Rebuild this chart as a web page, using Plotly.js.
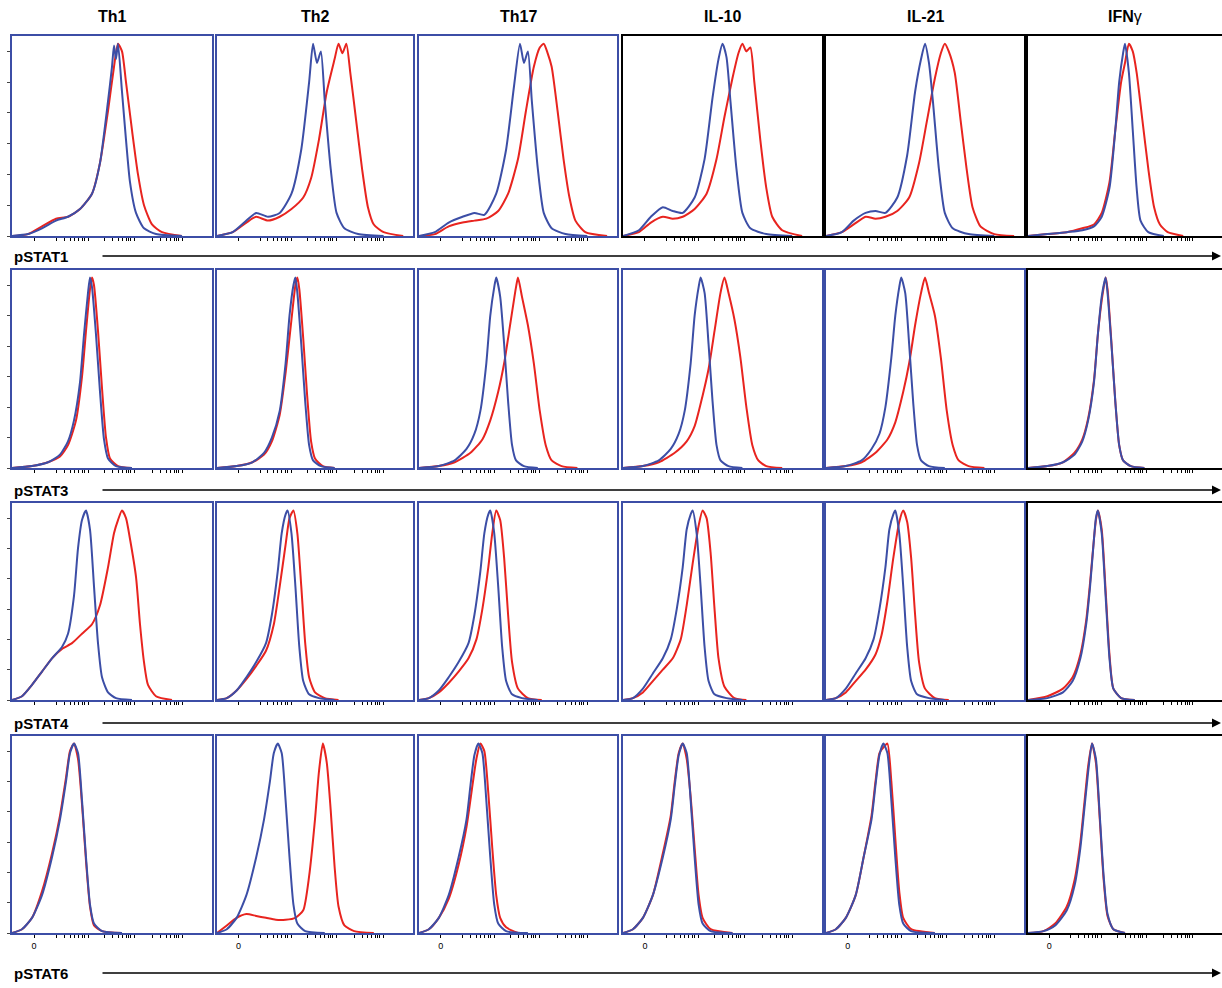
<!DOCTYPE html>
<html>
<head>
<meta charset="utf-8">
<script src="https://cdn.plot.ly/plotly-3.0.1.min.js"></script>
<style>body{margin:0;background:#fff}#chart{width:1222px;height:988px}</style>
</head>
<body>
<div id="chart"></div>
<script>
var columns = ['Th1', 'Th2', 'Th17', 'IL-10', 'IL-21', 'IFN\u03b3'];
var rows = ['pSTAT1', 'pSTAT3', 'pSTAT4', 'pSTAT6'];

// each curve: [x (0-100 across panel), y (% of max)] pairs
var pstat1Blue = [
  [[0,0],[8,1],[15,4],[22,8],[28,10],[34,14],[40,22],[44,38],[48,70],[50,88],[51,99],[52,92],[53,100],[55,75],[57,50],[59,28],[62,12],[66,4],[72,1],[85,0]],
  [[0,0],[8,2],[15,8],[20,12],[26,10],[32,12],[38,22],[43,45],[47,80],[49,100],[51,90],[53,96],[55,70],[58,35],[61,12],[65,4],[72,1],[85,0]],
  [[0,0],[8,2],[15,7],[22,10],[28,12],[33,11],[39,22],[44,45],[48,78],[51,100],[53,90],[55,96],[57,70],[60,35],[63,12],[67,4],[74,1],[85,0]],
  [[0,0],[8,3],[14,10],[20,15],[25,13],[30,12],[36,20],[41,40],[45,72],[48,92],[50,100],[52,93],[54,70],[57,35],[60,12],[64,4],[72,1],[85,0]],
  [[0,0],[8,2],[14,8],[20,12],[25,13],[30,12],[36,20],[41,42],[45,75],[48,92],[50,100],[52,90],[54,70],[57,35],[60,12],[64,4],[72,1],[85,0]],
  [[0,0],[10,1],[20,2],[28,3],[34,5],[38,10],[42,25],[45,55],[47,80],[49,95],[50,100],[52,85],[54,55],[56,25],[58,8],[62,2],[70,0]]
];
var pstat1Red = [
  [[0,0],[8,1],[15,5],[22,9],[28,10],[34,14],[40,22],[44,38],[48,65],[51,88],[53,100],[55,96],[57,80],[60,55],[63,32],[66,16],[70,6],[75,2],[85,0]],
  [[0,0],[8,2],[15,7],[20,10],[26,8],[32,10],[38,14],[44,20],[48,30],[52,50],[56,75],[60,92],[62,100],[64,95],[66,100],[68,85],[71,60],[74,35],[77,15],[80,6],[85,2],[95,0]],
  [[0,0],[8,1],[15,5],[22,7],[28,8],[34,9],[40,13],[45,22],[50,40],[54,65],[58,88],[61,98],[63,100],[65,95],[67,88],[70,65],[73,40],[76,20],[79,8],[84,2],[95,0]],
  [[0,0],[8,2],[14,7],[20,10],[25,9],[30,10],[36,14],[42,22],[47,40],[51,62],[55,82],[58,95],[60,100],[62,96],[64,98],[66,80],[69,50],[72,25],[75,10],[80,3],[90,0]],
  [[0,0],[8,2],[14,6],[20,10],[25,9],[30,10],[36,13],[42,20],[47,38],[51,60],[55,82],[58,95],[60,100],[62,96],[65,85],[68,60],[71,35],[74,15],[78,5],[85,1],[95,0]],
  [[0,0],[10,1],[20,2],[28,4],[34,6],[38,12],[42,28],[45,55],[48,80],[50,90],[52,100],[54,96],[56,85],[59,60],[62,35],[65,15],[68,6],[72,2],[80,0]]
];
var pstat3Blue = [
  [[0,0],[10,1],[18,3],[24,7],[28,14],[31,25],[34,45],[36,70],[38,92],[39,100],[40,95],[42,70],[44,40],[46,15],[48,5],[52,1],[60,0]],
  [[0,0],[10,1],[18,3],[24,8],[28,16],[32,30],[35,55],[37,80],[39,96],[40,100],[41,92],[43,65],[45,35],[47,12],[49,4],[53,1],[60,0]],
  [[0,0],[10,1],[18,4],[24,10],[28,18],[31,30],[34,55],[36,80],[38,95],[39,100],[41,90],[43,65],[45,35],[47,12],[49,4],[53,1],[60,0]],
  [[0,0],[10,1],[18,4],[24,10],[28,18],[31,30],[34,55],[36,80],[38,95],[39,100],[41,92],[43,65],[45,35],[47,12],[49,4],[53,1],[60,0]],
  [[0,0],[10,1],[18,4],[23,10],[27,18],[30,32],[33,58],[35,80],[37,95],[38,100],[40,92],[42,65],[44,35],[46,12],[48,4],[52,1],[60,0]],
  [[0,0],[10,1],[18,3],[24,7],[28,14],[31,25],[34,45],[36,70],[38,90],[40,100],[41,92],[43,65],[45,35],[47,12],[49,4],[53,1],[60,0]]
];
var pstat3Red = [
  [[0,0],[10,1],[18,3],[24,6],[28,12],[32,25],[35,48],[37,72],[39,94],[40,100],[41,96],[43,72],[45,42],[47,16],[49,5],[53,1],[60,0]],
  [[0,0],[10,1],[18,3],[24,7],[28,14],[32,28],[35,50],[38,78],[40,96],[41,100],[42,94],[44,68],[46,38],[48,14],[50,5],[54,1],[60,0]],
  [[0,0],[10,1],[18,3],[26,8],[32,15],[36,25],[40,40],[43,55],[46,75],[49,95],[50,100],[52,90],[55,75],[58,55],[61,30],[64,12],[67,4],[72,1],[80,0]],
  [[0,0],[10,1],[18,3],[26,8],[32,14],[36,22],[40,38],[43,52],[46,72],[49,92],[51,100],[53,92],[56,78],[59,58],[62,32],[65,12],[68,4],[72,1],[80,0]],
  [[0,0],[10,1],[18,3],[25,8],[31,15],[35,24],[39,40],[42,55],[45,75],[48,92],[50,100],[52,92],[55,80],[58,58],[61,30],[64,12],[67,4],[72,1],[80,0]],
  [[0,0],[10,1],[18,3],[24,8],[28,15],[31,26],[34,46],[36,70],[38,88],[40,100],[41,94],[43,66],[45,35],[47,12],[49,4],[53,1],[60,0]]
];
var pstat4Blue = [
  [[0,0],[5,2],[10,8],[15,15],[20,22],[25,28],[28,35],[31,55],[33,80],[35,95],[37,100],[39,90],[41,60],[43,30],[45,12],[48,4],[52,1],[60,0]],
  [[0,0],[5,1],[10,5],[15,12],[20,20],[25,30],[28,45],[31,68],[33,88],[35,98],[36,100],[38,88],[40,60],[42,28],[44,10],[47,3],[52,1],[60,0]],
  [[0,0],[5,1],[10,5],[15,12],[20,20],[25,30],[28,45],[31,68],[33,88],[35,98],[36,100],[38,88],[40,60],[42,28],[44,10],[47,3],[52,1],[60,0]],
  [[0,0],[5,1],[10,6],[15,14],[20,22],[24,32],[27,48],[30,70],[32,90],[34,98],[35,100],[37,88],[39,60],[41,28],[43,10],[46,3],[52,1],[60,0]],
  [[0,0],[5,1],[10,6],[15,14],[20,22],[24,32],[27,48],[30,70],[32,90],[34,98],[35,100],[37,88],[39,60],[41,28],[43,10],[46,3],[52,1],[60,0]],
  [[0,0],[10,1],[18,4],[23,10],[27,22],[30,40],[32,60],[34,85],[35,96],[36,100],[38,88],[40,55],[42,22],[44,6],[48,1],[55,0]]
];
var pstat4Red = [
  [[0,0],[5,2],[10,8],[15,15],[20,22],[25,27],[30,30],[35,35],[40,40],[44,50],[48,70],[51,88],[53,95],[55,100],[57,96],[59,85],[62,65],[64,40],[66,20],[68,8],[72,2],[80,0]],
  [[0,0],[5,1],[10,5],[15,11],[20,18],[25,26],[29,40],[32,60],[35,82],[37,96],[39,100],[41,88],[43,60],[45,30],[47,12],[50,4],[55,1],[62,0]],
  [[0,0],[5,1],[10,4],[15,9],[20,15],[25,22],[29,32],[32,48],[35,70],[37,88],[39,100],[41,95],[43,75],[45,45],[47,20],[50,6],[55,1],[62,0]],
  [[0,0],[5,1],[10,4],[15,10],[20,16],[25,22],[29,32],[32,50],[35,72],[38,92],[40,100],[42,96],[44,78],[46,48],[48,22],[51,7],[56,1],[62,0]],
  [[0,0],[5,1],[10,4],[15,10],[20,16],[25,24],[28,34],[31,52],[34,75],[37,94],[39,100],[41,94],[43,75],[45,45],[47,20],[50,6],[55,1],[62,0]],
  [[0,0],[10,2],[18,6],[23,12],[27,24],[30,42],[32,62],[34,85],[35,95],[36,100],[38,90],[40,58],[42,24],[44,6],[48,1],[55,0]]
];
var pstat6Blue = [
  [[0,0],[5,2],[10,8],[15,20],[20,40],[24,60],[27,80],[29,95],[31,100],[33,95],[35,70],[37,40],[39,15],[41,5],[45,1],[55,0]],
  [[0,0],[5,2],[10,8],[15,20],[20,40],[24,60],[27,80],[29,95],[31,100],[33,95],[35,70],[37,40],[39,15],[41,5],[45,1],[55,0]],
  [[0,0],[5,2],[10,8],[15,20],[20,40],[24,60],[26,78],[28,94],[30,100],[32,95],[34,70],[36,40],[38,15],[40,5],[44,1],[55,0]],
  [[0,0],[5,2],[10,8],[15,20],[20,40],[24,60],[26,78],[28,94],[30,100],[32,95],[34,70],[36,40],[38,15],[40,5],[44,1],[55,0]],
  [[0,0],[5,2],[10,8],[15,20],[19,40],[23,60],[25,78],[27,94],[29,100],[31,95],[33,70],[35,40],[37,15],[39,5],[43,1],[55,0]],
  [[0,0],[8,1],[14,4],[20,12],[24,25],[27,45],[29,65],[31,85],[33,100],[35,92],[37,62],[39,30],[41,10],[44,2],[50,0]]
];
var pstat6Red = [
  [[0,0],[5,2],[10,8],[15,22],[20,42],[24,62],[27,82],[29,96],[31,100],[33,92],[35,68],[37,38],[39,14],[41,4],[45,1],[55,0]],
  [[0,0],[5,4],[10,8],[15,10],[20,9],[25,8],[30,7],[35,7],[40,8],[44,12],[47,30],[50,60],[52,85],[54,100],[56,90],[58,65],[60,35],[62,14],[65,4],[70,1],[80,0]],
  [[0,0],[5,2],[10,8],[15,18],[20,36],[24,56],[27,78],[29,92],[31,100],[33,96],[35,74],[37,45],[39,20],[41,8],[44,3],[50,0]],
  [[0,0],[5,2],[10,8],[15,20],[20,42],[24,62],[26,80],[28,95],[30,100],[32,92],[34,72],[36,45],[38,20],[40,8],[44,2],[55,0]],
  [[0,0],[5,2],[10,8],[15,20],[19,40],[23,62],[25,80],[27,95],[29,98],[31,100],[33,80],[35,50],[37,22],[39,8],[43,2],[55,0]],
  [[0,0],[8,1],[14,5],[20,14],[24,28],[27,48],[29,68],[31,88],[33,100],[35,90],[37,60],[39,28],[41,9],[44,2],[50,0]]
];

var blueCurves = [pstat1Blue, pstat3Blue, pstat4Blue, pstat6Blue];
var redCurves = [pstat1Red, pstat3Red, pstat4Red, pstat6Red];

var colPx = [[12, 212], [217, 413], [419, 617], [623, 822], [826, 1024], [1028, 1222]];
var rowPx = [[36, 236], [270, 468], [503, 700], [736, 933]];
var labelPx = [256, 490, 723, 973];
var blackFrame = [[0,3],[0,4],[0,5],[1,5],[2,5],[3,5]];
var W = 1222, H = 988;
var blue = '#3c4ea6', red = '#e8241f';

var xTicks = [11, 22, 26, 29, 31, 33, 35, 36, 38, 46, 50, 53, 55, 57, 58, 59, 61, 70, 74, 77, 79, 81, 82, 83, 85];
var data = [], layout = {
  width: W, height: H, margin: {l: 0, r: 0, t: 0, b: 0},
  paper_bgcolor: '#fff', plot_bgcolor: '#fff', showlegend: false,
  font: {family: 'Liberation Sans, Arial, sans-serif', color: '#000'},
  annotations: [], shapes: []
};

function pts(c, i) { return c.map(function (p) { return p[i]; }); }

rows.forEach(function (rname, r) {
  columns.forEach(function (cname, c) {
    var n = r * 6 + c + 1;
    var xa = 'x' + n, ya = 'y' + n;
    [[redCurves[r][c], red], [blueCurves[r][c], blue]].forEach(function (s) {
      data.push({x: pts(s[0], 0), y: pts(s[0], 1), xaxis: xa, yaxis: ya,
        type: 'scatter', mode: 'lines', line: {color: s[1], width: 2, shape: 'spline', smoothing: 0.6},
        hoverinfo: 'skip'});
    });
    var isBlack = blackFrame.some(function (b) { return b[0] === r && b[1] === c; });
    var fc = isBlack ? '#000' : blue;
    layout['xaxis' + n] = {
      domain: [colPx[c][0] / W, colPx[c][1] / W], range: [0, 100], anchor: 'y' + n,
      showgrid: false, zeroline: false, showline: true, mirror: true, linecolor: fc, linewidth: 2,
      ticks: 'outside', ticklen: 3, tickcolor: '#000', tickvals: xTicks,
      ticktext: xTicks.map(function (v) { return (r === 3 && v === 11) ? '0' : ''; }),
      tickfont: {size: 9}
    };
    layout['yaxis' + n] = {
      domain: [1 - rowPx[r][1] / H, 1 - rowPx[r][0] / H], range: [0, 104], anchor: 'x' + n,
      showgrid: false, zeroline: false, showline: true, mirror: true, linecolor: fc, linewidth: 2,
      ticks: c === 0 ? 'outside' : '', ticklen: 3, tickvals: [0, 16, 32, 48, 64, 80, 96],
      showticklabels: false
    };
  });
  var yl = labelPx[r];
  layout.annotations.push({xref: 'paper', yref: 'paper', x: 12 / W, y: 1 - yl / H,
    xanchor: 'left', yanchor: 'middle', text: '<b>' + rname + '</b>', showarrow: false,
    font: {size: 15}});
  layout.annotations.push({xref: 'paper', yref: 'paper', x: 1 - 1 / W, y: 1 - yl / H,
    ax: -(1220 - 100), ay: 0, text: '', showarrow: true, arrowhead: 2, arrowsize: 1.2,
    arrowwidth: 1.5, arrowcolor: '#000'});
});

columns.forEach(function (cname, c) {
  layout.annotations.push({xref: 'paper', yref: 'paper',
    x: (colPx[c][0] + colPx[c][1]) / 2 / W, y: 1 - 17 / H,
    text: c === 5 ? '<b>IFN</b>\u03b3' : '<b>' + cname + '</b>', showarrow: false,
    font: {size: 16}, xanchor: 'center', yanchor: 'middle'});
});

Plotly.newPlot('chart', data, layout, {displayModeBar: false, staticPlot: true});
</script>
</body>
</html>
